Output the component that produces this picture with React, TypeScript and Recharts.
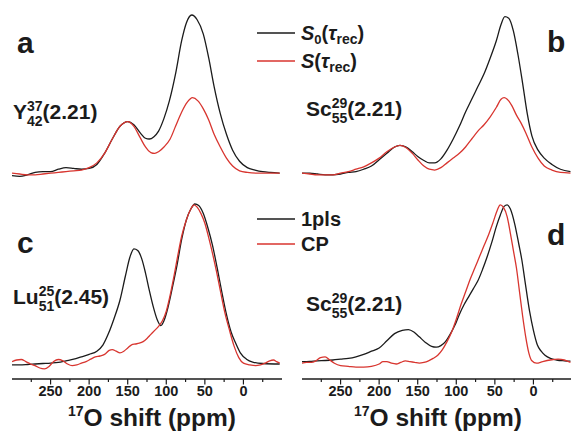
import React from 'react';
import { LineChart, Line, XAxis, YAxis } from 'recharts';

// ---------- Panel a : Y(37/42) ----------
const aPpmS0 = [300, 290, 280, 270, 260, 250, 240, 230, 220, 210, 200, 190, 180, 170, 160, 150, 142, 134, 127, 122, 116, 110, 103, 96, 88, 80, 74, 67, 60, 52, 45, 38, 30, 22, 14, 5, -5, -15, -25, -35, -47];
const aS0 = [-1, -1.5, -0.5, 1, 1.5, 1.5, 3, 4, 3.5, 3, 3.5, 6, 13, 22, 30, 33, 31, 26, 22.5, 22, 23.5, 27, 35, 46, 63, 84, 95, 100, 97, 88, 73, 55, 38, 25, 15, 8, 4, 2.5, 1.5, 1, 0.6];
const aPpmS = [300, 290, 280, 270, 260, 250, 240, 230, 220, 210, 200, 190, 180, 170, 160, 150, 142, 134, 127, 120, 115, 110, 103, 95, 88, 80, 73, 66, 59, 52, 45, 38, 30, 22, 14, 5, -5, -20, -47];
const aS = [0.6, 0, -0.5, -0.5, 0, 0.5, 1, 1.5, 2, 2.5, 4, 7, 13, 22, 30, 33, 30, 23, 17, 13.5, 13, 14, 17, 22, 30, 39, 45, 48, 46, 41, 34, 25, 17, 10, 5, 2, 1, 0.5, 0.6];

// ---------- Panel b : Sc(29/55) ----------
const bPpmS0 = [300, 290, 280, 270, 260, 250, 240, 230, 220, 210, 200, 190, 180, 173, 165, 157, 150, 142, 135, 128, 120, 112, 104, 96, 88, 80, 72, 64, 56, 48, 42, 37, 32, 26, 20, 14, 8, 2, -6, -14, -24, -35, -48];
const bS0 = [0.6, 0.5, 0, -0.5, -0.5, 0, 1, 1.5, 3, 5, 9, 13, 17, 18, 17, 14, 11, 8.5, 7, 7, 9.5, 15, 22, 30, 39, 47, 55, 63, 73, 84, 94, 99, 98, 90, 75, 57, 38, 24, 15, 10, 6, 3, 1.5];
const bPpmS = [300, 290, 280, 270, 260, 250, 240, 230, 220, 210, 200, 190, 180, 173, 165, 157, 150, 142, 135, 128, 120, 112, 104, 96, 88, 80, 72, 64, 56, 48, 42, 38, 34, 28, 22, 16, 10, 2, -6, -14, -24, -35, -48];
const bS = [0.6, 0, -0.5, -0.5, -0.5, 0.5, 1.5, 3, 4.5, 7, 10, 14, 17, 18, 16.5, 13, 9, 5, 3, 2.5, 4, 7, 10, 13, 17, 22, 27, 31, 36, 42, 47, 48, 47, 43, 37, 32, 26, 17, 10, 5, 2.5, 1, 0.6];

// ---------- Panel c : Lu(25/51) ----------
const cPpm1 = [300, 290, 280, 270, 260, 250, 240, 230, 220, 210, 200, 190, 182, 175, 168, 160, 153, 147, 142, 137, 132, 127, 122, 117, 112, 107, 103, 98, 92, 86, 80, 74, 68, 63, 58, 52, 46, 40, 34, 28, 22, 16, 10, 4, -4, -12, -25, -47];
const c1pls = [-0.5, -0.5, -0.3, 0, 0.3, 0.6, 1, 2, 3, 4.5, 6, 8, 12, 19, 28, 40, 55, 67, 72, 71, 66, 57, 46, 36, 28, 24, 27, 35, 48, 62, 78, 90, 97, 100, 99, 94, 85, 74, 60, 45, 31, 20, 13, 7, 3, 1.2, 0.3, 0];
const cPpmCP = [300, 294, 288, 282, 276, 270, 264, 258, 252, 246, 240, 234, 228, 222, 216, 210, 204, 198, 192, 186, 180, 174, 170, 165, 160, 155, 150, 145, 140, 135, 130, 125, 120, 115, 110, 105, 100, 95, 90, 85, 80, 74, 68, 64, 60, 55, 50, 45, 40, 35, 30, 24, 18, 12, 6, 0, -8, -16, -22, -28, -34, -39, -43, -47];
const cCP = [1.5, 2.5, 2.8, 1.5, 0, -1, -2.5, -3, -1.5, 1.5, 2.8, 2, 0, -1, -0.5, 0.5, 1.5, 3, 4.5, 5, 6, 8.5, 9, 8, 7, 8, 10, 12, 12.5, 13, 14, 16, 18.5, 21, 23.5, 27, 33, 43, 55, 68, 80, 90, 97, 99.5, 98, 94, 88, 79, 69, 58, 46, 32, 21, 11, 4, 0.5, -0.5, -1, -0.5, 0.5, 2, 2.5, 1.5, 0.5];

// ---------- Panel d : Sc(29/55) ----------
const dPpm1 = [300, 290, 280, 270, 260, 250, 240, 230, 220, 210, 200, 190, 180, 170, 162, 155, 148, 140, 132, 126, 120, 114, 108, 102, 96, 90, 84, 78, 72, 66, 60, 54, 48, 43, 38, 34, 30, 24, 19, 15, 11, 5, 0, -5, -10, -15, -22, -30, -40, -48];
const d1pls = [1.5, 1.7, 2, 2.2, 2.5, 3, 3.5, 4.5, 6, 8, 10, 14.5, 19, 21, 21.5, 20, 17, 13.5, 11, 10.5, 11.5, 14, 18.5, 24, 31, 37, 42, 47, 52, 59, 67, 76, 86, 93, 98.5, 99.5, 97, 87, 75, 65, 52, 33, 21, 12, 8, 5.5, 3.5, 2.5, 2, 1.8];
const dPpmCP = [300, 294, 288, 282, 276, 270, 264, 258, 250, 240, 230, 220, 210, 200, 195, 190, 184, 178, 172, 166, 160, 154, 148, 142, 136, 130, 124, 118, 112, 106, 100, 94, 88, 82, 76, 70, 64, 58, 52, 47, 43, 39, 34, 30, 26, 22, 18, 14, 10, 6, 2, -4, -12, -22, -32, -40, -48];
const dCP = [0.5, 1, 1, 2, 4, 4.5, 2.5, 0.5, -1, -1.5, -2, -2, -1.5, 0, 1.5, 1.5, 0.5, 0, 1, 2, 1.5, 1, 0.5, 1, 2, 3.5, 5.5, 9, 14, 20, 28, 37, 45, 53, 60, 67, 74, 81, 89, 96, 99.5, 98, 92, 82, 71, 60, 45, 30, 17, 7, 2, 0.5, 1.5, 2.5, 3, 2.5, 1];

const xTicks = [275, 250, 225, 200, 175, 150, 125, 100, 75, 50, 25, 0, -25];
const majorTicks = [250, 200, 150, 100, 50, 0];

const BLACK = '#1b1b1b';
const RED = '#d8352f';
const FONT = '"Liberation Sans", Arial, Helvetica, sans-serif';

const toPts = (xs: number[], ys: number[]) => xs.map((x, i) => ({ x, y: ys[i] }));

const AxisTick = (props: any) => {
  const { x, y, payload } = props;
  const v = payload.value;
  const major = majorTicks.includes(v);
  return (
    <g>
      <line x1={x} x2={x} y1={y} y2={y + (major ? 5.5 : 3)} stroke={BLACK} strokeWidth={1.2} />
      {major && (
        <text x={x} y={y + 17} textAnchor="middle" fontFamily={FONT} fontWeight="bold" fontSize={14.5} fill={BLACK}>
          {v}
        </text>
      )}
    </g>
  );
};

type PanelProps = {
  left: number;
  top: number;
  plotH: number;
  yDomain: [number, number];
  black: { x: number; y: number }[];
  red: { x: number; y: number }[];
  showAxis: boolean;
};

const Panel = ({ left, top, plotH, yDomain, black, red, showAxis }: PanelProps) => {
  const axisH = showAxis ? 40 : 0;
  return (
    <div style={{ position: 'absolute', left, top }}>
      <LineChart width={270} height={plotH + axisH} margin={{ top: 0, right: 0, bottom: 0, left: 0 }}>
        <XAxis
          type="number"
          dataKey="x"
          domain={[-50, 300]}
          reversed
          allowDataOverflow
          hide={!showAxis}
          ticks={xTicks}
          interval={0}
          tickLine={false}
          tickSize={0}
          tickMargin={0}
          height={axisH}
          tick={(p: any) => <AxisTick {...p} />}
          axisLine={{ stroke: BLACK, strokeWidth: 1.3 }}
        />
        <YAxis type="number" dataKey="y" domain={yDomain} hide allowDataOverflow />
        <Line data={black} dataKey="y" type="monotone" stroke={BLACK} strokeWidth={1.3} dot={false} isAnimationActive={false} />
        <Line data={red} dataKey="y" type="monotone" stroke={RED} strokeWidth={1.3} dot={false} isAnimationActive={false} />
      </LineChart>
    </div>
  );
};

const Stack = ({ sup, sub, size }: { sup: string; sub: string; size: number }) => (
  <>
    <tspan fontSize={size} dy={-8}>{sup}</tspan>
    <tspan fontSize={size} dx={-size * 1.112} dy={15}>{sub}</tspan>
  </>
);

export default function App() {
  const topDomain: [number, number] = [-10.06, 105.03];
  const botDomain: [number, number] = [-9.375, 105];
  return (
    <div style={{ position: 'absolute', left: 0, top: 0, width: 571, height: 436, overflow: 'hidden', background: '#fff' }}>
      <Panel left={12} top={7} plotH={183} yDomain={topDomain} black={toPts(aPpmS0, aS0)} red={toPts(aPpmS, aS)} showAxis={false} />
      <Panel left={302} top={7} plotH={183} yDomain={topDomain} black={toPts(bPpmS0, bS0)} red={toPts(bPpmS, bS)} showAxis={false} />
      <Panel left={12} top={196} plotH={183} yDomain={botDomain} black={toPts(cPpm1, c1pls)} red={toPts(cPpmCP, cCP)} showAxis={true} />
      <Panel left={302} top={196} plotH={183} yDomain={botDomain} black={toPts(dPpm1, d1pls)} red={toPts(dPpmCP, dCP)} showAxis={true} />
      <svg width={571} height={436} style={{ position: 'absolute', left: 0, top: 0, pointerEvents: 'none' }}>
        <g fontFamily={FONT} fontWeight="bold" fill={BLACK}>
          {/* panel letters */}
          <text x={17} y={53} fontSize={30}>a</text>
          <text x={547} y={52} fontSize={30}>b</text>
          <text x={17} y={253} fontSize={30}>c</text>
          <text x={547} y={245} fontSize={30}>d</text>

          {/* legends */}
          <line x1={257} x2={295} y1={33} y2={33} stroke={BLACK} strokeWidth={1.3} />
          <text x={301} y={40} fontSize={20}>
            <tspan fontStyle="italic">S</tspan>
            <tspan fontSize={13} dy={4}>0</tspan>
            <tspan dy={-4}>(</tspan>
            <tspan fontStyle="italic">τ</tspan>
            <tspan fontSize={14} dy={4}>rec</tspan>
            <tspan dy={-4}>)</tspan>
          </text>
          <line x1={257} x2={295} y1={61} y2={61} stroke={RED} strokeWidth={1.3} />
          <text x={301} y={68} fontSize={20}>
            <tspan fontStyle="italic">S</tspan>
            <tspan>(</tspan>
            <tspan fontStyle="italic">τ</tspan>
            <tspan fontSize={14} dy={4}>rec</tspan>
            <tspan dy={-4}>)</tspan>
          </text>
          <line x1={257} x2={295} y1={219} y2={219} stroke={BLACK} strokeWidth={1.3} />
          <text x={301} y={226} fontSize={20}>1pls</text>
          <line x1={257} x2={295} y1={244} y2={244} stroke={RED} strokeWidth={1.3} />
          <text x={301} y={251} fontSize={20}>CP</text>

          {/* sample labels */}
          <text x={13} y={119} fontSize={21}>
            Y<Stack sup="37" sub="42" size={14} />
            <tspan dy={-7}>(2.21)</tspan>
          </text>
          <text x={306} y={116} fontSize={21}>
            Sc<Stack sup="29" sub="55" size={14} />
            <tspan dy={-7}>(2.21)</tspan>
          </text>
          <text x={13} y={304} fontSize={21}>
            Lu<Stack sup="25" sub="51" size={14} />
            <tspan dy={-7}>(2.45)</tspan>
          </text>
          <text x={306} y={311} fontSize={21}>
            Sc<Stack sup="29" sub="55" size={14} />
            <tspan dy={-7}>(2.21)</tspan>
          </text>

          {/* axis titles */}
          <text x={152} y={426} fontSize={24.5} textAnchor="middle">
            <tspan fontSize={14} dy={-10}>17</tspan>
            <tspan dy={10}>O shift (ppm)</tspan>
          </text>
          <text x={438} y={426} fontSize={24.5} textAnchor="middle">
            <tspan fontSize={14} dy={-10}>17</tspan>
            <tspan dy={10}>O shift (ppm)</tspan>
          </text>
        </g>
      </svg>
    </div>
  );
}
